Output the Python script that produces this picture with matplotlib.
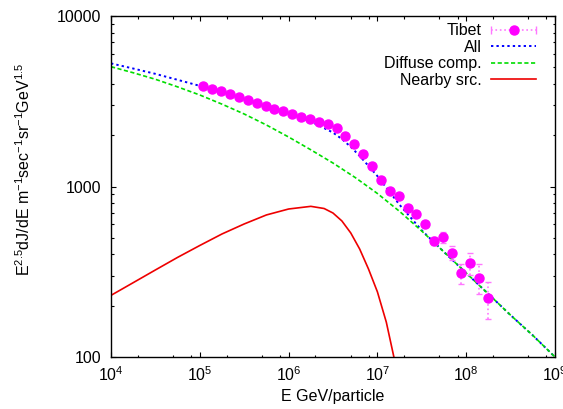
#!/usr/bin/env python3
"""Tibet all-particle spectrum vs. diffuse + nearby-source model (E^2.5 weighted)."""

import matplotlib

matplotlib.use("Agg")
import matplotlib.pyplot as plt
import numpy as np
from matplotlib.legend_handler import HandlerErrorbar
from matplotlib.ticker import FuncFormatter, LogLocator, NullFormatter

# Tibet air-shower data (GeV/particle, E^2.5 dJ/dE)
tibet_e = [1.10e5, 1.38e5, 1.74e5, 2.19e5, 2.75e5, 3.47e5, 4.37e5, 5.50e5, 6.92e5, 8.71e5,
           1.10e6, 1.38e6, 1.74e6, 2.19e6, 2.75e6, 3.47e6, 4.37e6, 5.50e6, 6.92e6, 8.71e6,
           1.10e7, 1.38e7, 1.74e7, 2.19e7, 2.75e7, 3.47e7, 4.37e7, 5.50e7, 6.92e7, 8.71e7,
           1.10e8, 1.38e8, 1.74e8]
tibet_flux = [3886, 3715, 3616, 3473, 3337, 3216, 3088, 2977, 2859, 2760,
              2662, 2567, 2487, 2399, 2316, 2195, 1977, 1774, 1544, 1315,
              1096, 937, 880, 751, 693, 602, 481, 506, 409, 310,
              355, 292, 222]
tibet_err = [20, 20, 20, 20, 20, 20, 20, 20, 20, 20,
             20, 20, 20, 20, 20, 20, 18, 16, 15, 14,
             12, 12, 12, 12, 12, 14, 26, 37, 38, 41,
             52, 57, 55]

# model curves
model_e = [1e4, 1.78e4, 3.16e4, 5.62e4, 1e5, 1.78e5, 3.16e5, 5.62e5, 1e6, 1.78e6,
           3.16e6, 5.62e6, 1e7, 1.78e7, 3.16e7, 5.62e7, 1e8, 1.78e8, 3.16e8, 5.62e8, 1e9]
diffuse_flux = [5042, 4645, 4254, 3839, 3441, 3039, 2662, 2295, 1951, 1641,
                1373, 1129, 910, 714, 548, 413, 311, 234, 176, 134, 100]

all_e = [1e4, 1.78e4, 3.16e4, 5.62e4, 1e5, 1.78e5, 3.16e5, 5.62e5, 1e6, 1.78e6,
         3.16e6, 3.98e6, 5.01e6, 6.31e6, 7.94e6, 1e7, 1.26e7, 1.78e7, 3.16e7, 5.62e7,
         1e8, 1.78e8, 3.16e8, 5.62e8, 1e9]
all_flux = [5272, 4918, 4578, 4223, 3892, 3566, 3265, 2976, 2689, 2406,
            2072, 1898, 1708, 1511, 1320, 1151, 985, 780, 553, 413,
            311, 234, 176, 134, 100]

nearby_e = [1e4, 1.78e4, 3.16e4, 5.62e4, 1e5, 1.78e5, 3.16e5, 5.62e5, 1e6, 1.78e6,
            2.51e6, 3.16e6, 3.98e6, 5.01e6, 6.31e6, 7.94e6, 1e7, 1.26e7, 1.58e7]
nearby_flux = [230, 273, 324, 384, 451, 527, 603, 681, 738, 765,
               743, 699, 628, 534, 430, 328, 241, 160, 93]

plt.rcParams["font.family"] = ["Liberation Sans", "DejaVu Sans"]
plt.rcParams["mathtext.fontset"] = "custom"
plt.rcParams["mathtext.rm"] = "Liberation Sans"
plt.rcParams["mathtext.it"] = "Liberation Sans:italic"
plt.rcParams["font.size"] = 11.5

fig = plt.figure(figsize=(5.63, 4.09), dpi=100)
ax = fig.add_axes([0.1972, 0.1271, 0.7886, 0.8338])

ax.plot(all_e, all_flux, color="#0000ff", linestyle=(0, (1.2, 1.6)), linewidth=1.4)
ax.plot(model_e, diffuse_flux, color="#00dd00", linestyle=(0, (2.5, 1.5)), linewidth=1.2)
ax.plot(nearby_e, nearby_flux, color="#ee0000", linestyle="-", linewidth=1.2)

eb = ax.errorbar(tibet_e, tibet_flux, yerr=tibet_err, fmt="o", color="#ff00ff",
                 markersize=6.5, ecolor="#ff77ff", elinewidth=1.2, capsize=2.5, capthick=1.0, zorder=5)
for line in eb[2]:
    line.set_linestyle(":")

# legend sample drawn as a horizontal error bar, like the original
dummy = ax.errorbar([np.nan], [np.nan], xerr=[1], fmt="o", color="#ff00ff", markersize=6.5,
                    ecolor="#ff77ff", elinewidth=1.2, capsize=3, capthick=1.0)
dummy[2][0].set_linestyle(":")
h_all, h_dif, h_near = ax.get_lines()[:3]
ax.legend([dummy, h_all, h_dif, h_near], ["Tibet", "All", "Diffuse comp.", "Nearby src."],
          handler_map={dummy: HandlerErrorbar(xerr_size=1.4)},
          loc="upper right", bbox_to_anchor=(0.957, 0.979), frameon=False, markerfirst=False,
          handlelength=2.8, handletextpad=0.6, labelspacing=0.1, borderpad=0, borderaxespad=0)

ax.set_xscale("log")
ax.set_yscale("log")
ax.set_xlim(1e4, 1e9)
ax.set_ylim(100, 10000)

ax.xaxis.set_major_locator(LogLocator(base=10, numticks=10))
ax.xaxis.set_minor_locator(LogLocator(base=10, subs=[2, 5, 8], numticks=20))
ax.xaxis.set_minor_formatter(NullFormatter())
ax.yaxis.set_major_locator(LogLocator(base=10, numticks=10))
ax.yaxis.set_minor_locator(LogLocator(base=10, subs=np.arange(2, 10), numticks=20))
ax.yaxis.set_major_formatter(FuncFormatter(lambda v, _: f"{int(round(v))}"))
ax.yaxis.set_minor_formatter(NullFormatter())

ax.tick_params(which="both", direction="in", top=True, right=True)
ax.tick_params(which="major", length=3.6, width=0.8)
ax.tick_params(which="minor", length=1.8, width=0.8)
ax.tick_params(axis="x", which="major", pad=6)
ax.tick_params(axis="y", which="major", pad=7)
for sp in ax.spines.values():
    sp.set_linewidth(1.0)

ax.set_xlabel("E GeV/particle")
ax.set_ylabel(r"E$^{2.5}$dJ/dE m$^{-1}$sec$^{-1}$sr$^{-1}$GeV$^{1.5}$")
ax.xaxis.set_label_coords(0.5, -0.095)
ax.yaxis.set_label_coords(-0.176, 0.55)

fig.savefig("out.png", dpi=100)
